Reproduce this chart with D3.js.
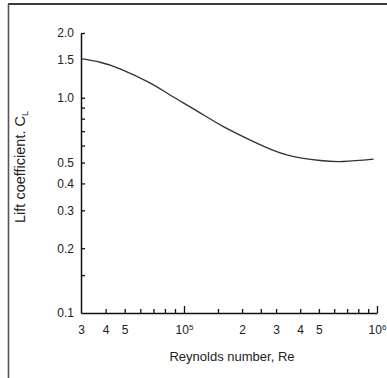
<!DOCTYPE html>
<html>
<head>
<meta charset="utf-8">
<script src="https://cdn.jsdelivr.net/npm/d3@7"></script>
<style>
  html, body { margin: 0; padding: 0; background: #fff; }
  svg { display: block; }
  .tick text { font-family: "Liberation Sans", Arial, Helvetica, sans-serif; fill: #222; }
</style>
</head>
<body>
<script>
// Lift coefficient vs Reynolds number (log-log)
const reynolds  = [3e4, 3.75e4, 4.77e4, 6.75e4, 8.5e4, 1.164e5, 1.6e5, 2.38e5, 3.41e5, 5.08e5, 6.71e5, 9.6e5];
const liftCoeff = [1.52, 1.463, 1.36, 1.17, 1.03, 0.87, 0.735, 0.616, 0.543, 0.511, 0.506, 0.519];

const yLabelValues = [2.0, 1.5, 1.0, 0.5, 0.4, 0.3, 0.2, 0.1];
const yTickValues  = [2.0, 1.0, 0.9, 0.8, 0.7, 0.6, 0.5, 0.4, 0.3, 0.2, 0.15];
const xLabelValues = [3e4, 4e4, 5e4, 1e5, 2e5, 3e5, 4e5, 5e5, 1e6];
const xMinorTicks  = [4e4, 5e4, 6e4, 7e4, 8e4, 9e4, 1.5e5, 2e5, 2.5e5, 3e5, 4e5, 5e5, 6e5, 7e5, 8e5, 9e5];
const xMajorTicks  = [1e5, 1e6];

const W = 387, H = 378;
const svg = d3.select("body").append("svg").attr("width", W).attr("height", H);

// frame (top and left edges)
svg.append("line").attr("x1", 8).attr("y1", 4).attr("x2", W).attr("y2", 4)
  .attr("stroke", "#3a3a3a").attr("stroke-width", 2);
svg.append("line").attr("x1", 8.5).attr("y1", 4).attr("x2", 8.5).attr("y2", H)
  .attr("stroke", "#555").attr("stroke-width", 1.6);

const x0 = 81, xAxisY = 313;
const x = d3.scaleLog().domain([3e4, 1e5, 1e6]).range([x0, 184, 377]);
const y = d3.scaleLog().domain([0.1, 2.0]).range([xAxisY, 33]);

const font = '"Liberation Sans", Arial, Helvetica, sans-serif';

// y axis: ticks pointing into the plot
const gy = svg.append("g").attr("transform", `translate(${x0},0)`);
gy.call(d3.axisLeft(y).tickValues(yTickValues).tickSize(-4).tickSizeOuter(0).tickFormat(""));
gy.select(".domain").attr("stroke", "#111").attr("stroke-width", 1.5);
gy.selectAll(".tick line").attr("stroke", "#111").attr("stroke-width", 1.3);

const gyl = svg.append("g").attr("transform", `translate(${x0},0)`);
gyl.call(d3.axisLeft(y).tickValues(yLabelValues).tickSize(0).tickPadding(7).tickFormat(d3.format(".1f")));
gyl.select(".domain").remove();
gyl.selectAll(".tick text").attr("font-size", 12).attr("font-family", font);

// x axis
const gx = svg.append("g").attr("transform", `translate(0,${xAxisY})`);
gx.call(d3.axisBottom(x).tickValues(xMinorTicks).tickSize(-4).tickSizeOuter(0).tickFormat(""));
gx.select(".domain").attr("stroke", "#111").attr("stroke-width", 1.5);
gx.selectAll(".tick line").attr("stroke", "#111").attr("stroke-width", 1.3);

const gxm = svg.append("g").attr("transform", `translate(0,${xAxisY})`);
gxm.call(d3.axisBottom(x).tickValues(xMajorTicks).tickSize(-7).tickFormat(""));
gxm.select(".domain").remove();
gxm.selectAll(".tick line").attr("stroke", "#111").attr("stroke-width", 1.3);

const gxl = svg.append("g").attr("transform", `translate(0,${xAxisY})`);
gxl.call(d3.axisBottom(x).tickValues(xLabelValues).tickSize(0).tickPadding(12)
  .tickFormat(d => {
    const e = Math.log10(d);
    return Number.isInteger(e) ? "" : String(d / Math.pow(10, Math.floor(e)));
  }));
gxl.select(".domain").remove();
gxl.selectAll(".tick text").attr("font-size", 12).attr("font-family", font)
  .each(function(d) {
    const e = Math.log10(d);
    if (Number.isInteger(e)) {
      const t = d3.select(this);
      t.append("tspan").text("10");
      t.append("tspan").attr("font-size", 8).attr("dy", "-0.45em").text(String(e));
    }
  });

// curve
const line = d3.line()
  .x((d, i) => x(reynolds[i]))
  .y((d, i) => y(liftCoeff[i]))
  .curve(d3.curveNatural);
svg.append("path").datum(reynolds).attr("d", line)
  .attr("fill", "none").attr("stroke", "#333").attr("stroke-width", 1.4);

// axis titles
svg.append("text").attr("x", 232).attr("y", 361).attr("text-anchor", "middle")
  .attr("font-family", font).attr("font-size", 13).attr("fill", "#222")
  .text("Reynolds number, Re");

const yt = svg.append("text").attr("transform", "translate(25,167) rotate(-90)")
  .attr("text-anchor", "middle").attr("font-family", font).attr("font-size", 14.5).attr("fill", "#222");
yt.append("tspan").text("Lift coefficient. C");
yt.append("tspan").attr("font-size", 9).attr("dy", "0.3em").text("L");
</script>
</body>
</html>
